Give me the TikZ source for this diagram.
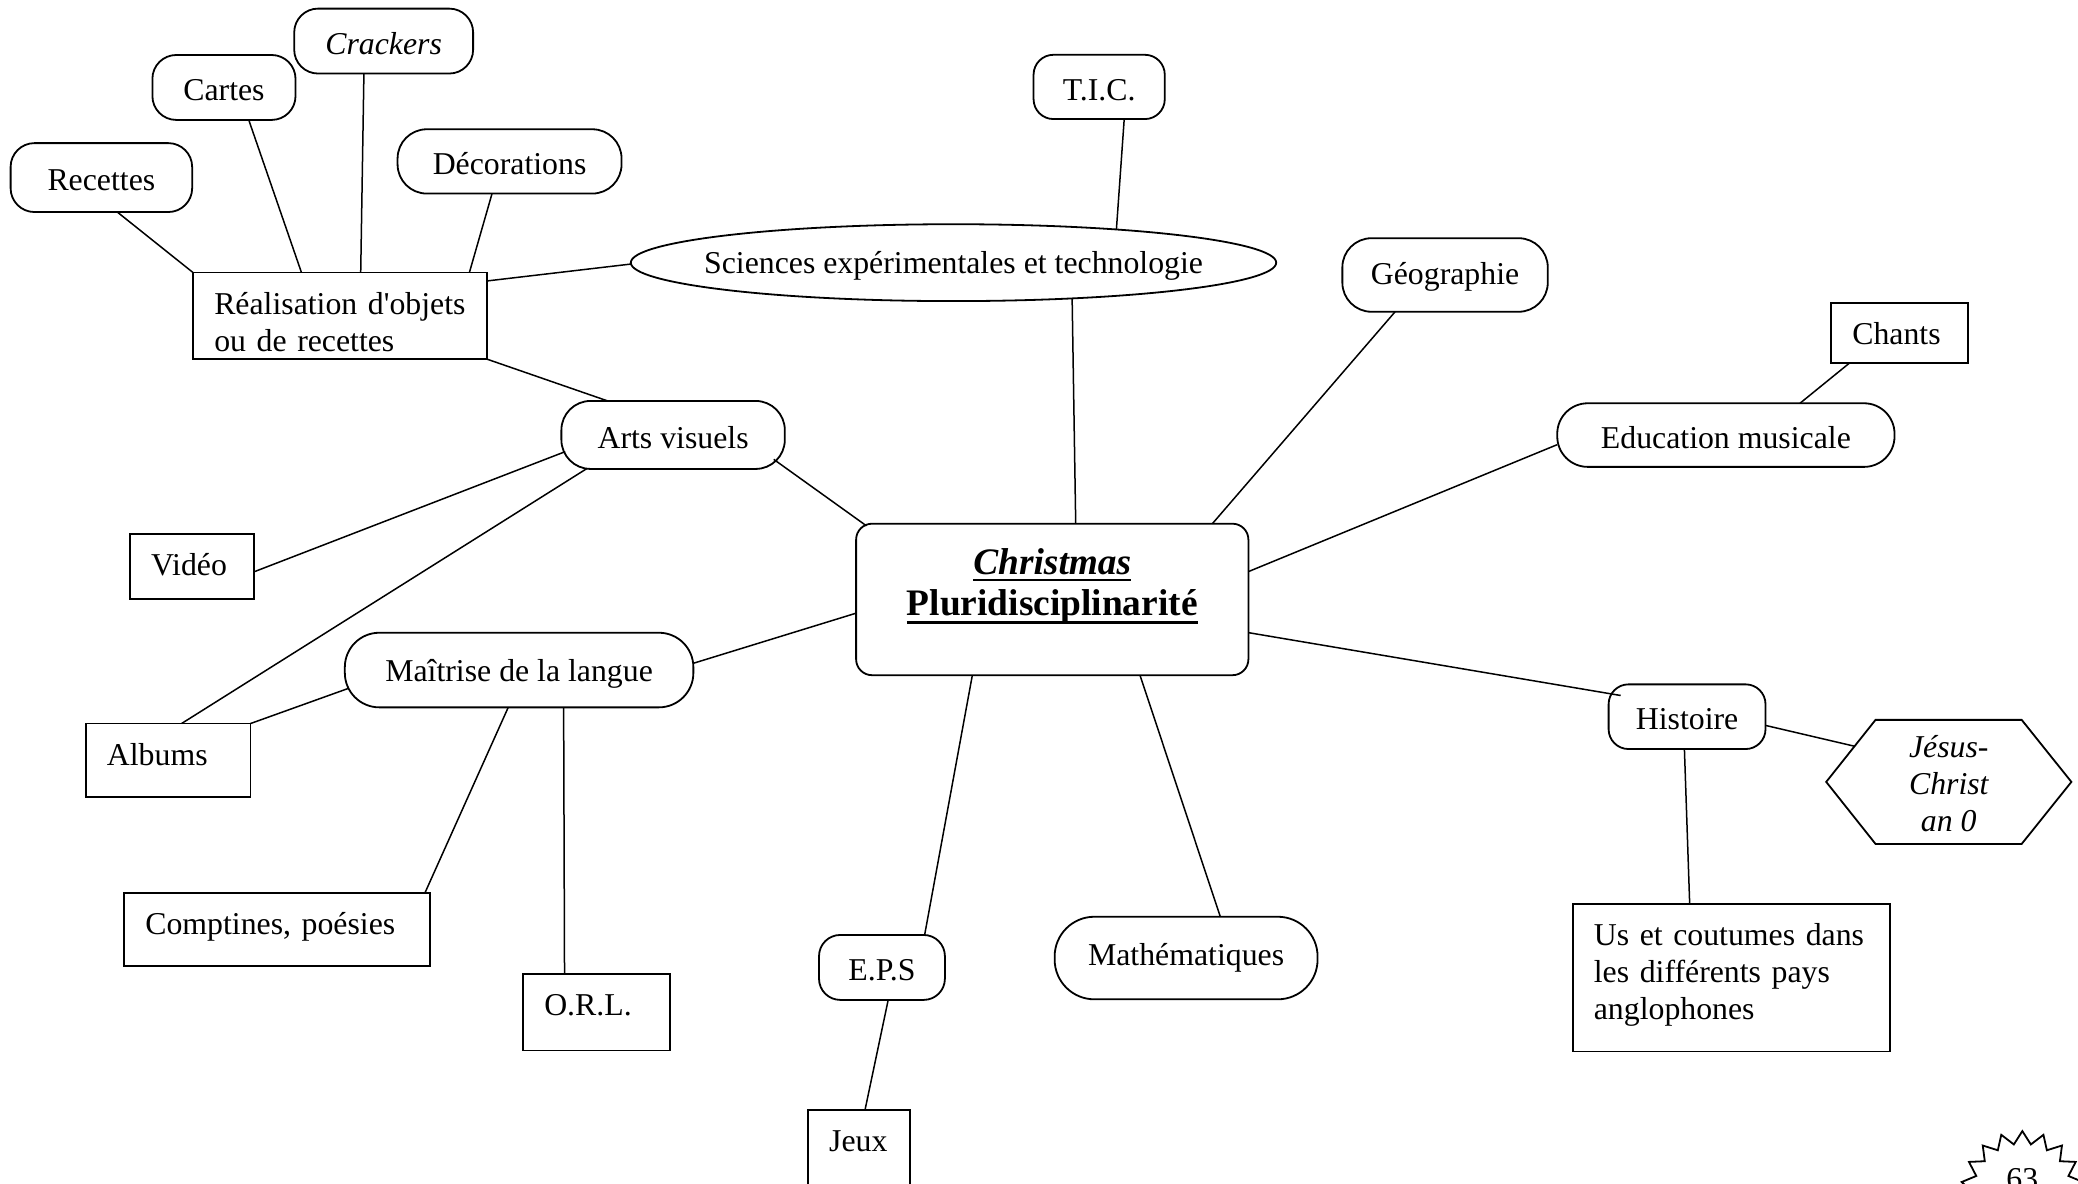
\documentclass[tikz,border=0pt]{standalone}
\usepackage{fontspec}
\setmainfont{Liberation Serif}
\usetikzlibrary{shapes.geometric}
\newdimen\pxu \pxu=0.6627pt
\newsavebox\myulbox
\newcommand\myul[2]{\leavevmode\sbox\myulbox{#2}\rlap{\rule[#1]{\wd\myulbox}{1.3pt}}\usebox\myulbox}
\begin{document}
\begin{tikzpicture}[x=0.6627pt,y=-0.6627pt,
  font=\fontsize{15.9}{18.5}\selectfont,
  nodebase/.style={draw, line width=0.9pt, inner sep=0pt},
  pill/.style={nodebase, rectangle, rounded corners=#1\pxu, text height=22\pxu, text depth=2\pxu, align=center},
  pill/.default=18,
  tbox/.style={nodebase, rectangle, anchor=north west, inner xsep=16\pxu, inner ysep=0pt, text height=31.5\pxu, align=left},
  conn/.style={line width=0.75pt}]
\useasboundingbox (0,0) rectangle (1568,893);
\clip (0,0) rectangle (1568,893);

% nodes
\node[pill=18, minimum width=137\pxu, minimum height=52\pxu] (rec) at (76.5,134) {Recettes};
\node[pill=18, minimum width=108\pxu, minimum height=49\pxu] (cartes) at (169,66) {Cartes};
\node[pill=18, minimum width=135\pxu, minimum height=49\pxu] (crackers) at (289.5,31) {\itshape Crackers};
\node[pill=22, minimum width=169\pxu, minimum height=48.5\pxu] (deco) at (384.5,121.8) {Décorations};
\node[tbox, text width=190\pxu, text depth=34\pxu] (real) at (145,205) {\mbox{Réalisation d\textquotesingle objets}\\\mbox{ou de recettes}};
\node[nodebase, ellipse, minimum width=487\pxu, minimum height=58\pxu, text height=20\pxu, text depth=4\pxu] (sci) at (719.5,198.2) {\makebox[0pt]{Sciences expérimentales et technologie}};
\node[pill=15, minimum width=99\pxu, minimum height=48.5\pxu] (tic) at (829.4,65.6) {T.I.C.};
\node[pill=22, minimum width=155\pxu, minimum height=55.5\pxu, text height=19.5\pxu, text depth=4.5\pxu] (geo) at (1090.4,207.5) {Géographie};
\node[tbox, text width=71.5\pxu, text depth=14\pxu] (chants) at (1381,228) {Chants};
\node[pill=23, minimum width=254.5\pxu, minimum height=48\pxu] (edu) at (1302.3,328.3) {Education musicale};
\node[pill=22, minimum width=168.6\pxu, minimum height=51.3\pxu] (arts) at (507.9,328.2) {Arts visuels};
\node[tbox, text width=61.6\pxu, text depth=18\pxu] (video) at (97.4,402) {Vidéo};
\node[nodebase, rectangle, rounded corners=12\pxu, anchor=north, minimum width=296\pxu, text width=280\pxu, align=center, text height=38\pxu, text depth=76.3\pxu, font=\fontsize{18.7}{20.8}\selectfont\bfseries] (xmas) at (794,394.5) {\myul{-3.55pt}{\itshape Christmas}\\\myul{-3.95pt}{Pluridisciplinarité}};
\node[pill=26, minimum width=263\pxu, minimum height=56.3\pxu, text height=20.8\pxu, text depth=3.2\pxu] (lang) at (391.7,505.6) {Maîtrise de la langue};
\node[tbox, text width=92.3\pxu, text depth=23.8\pxu] (albums) at (64,545.3) {Albums};
\node[tbox, text width=199\pxu, text depth=23.5\pxu] (comptines) at (93,673) {\mbox{Comptines, poésies}};
\node[tbox, text width=79\pxu, text depth=26.5\pxu] (orl) at (394,734) {O.R.L.};
\node[pill=16, minimum width=95\pxu, minimum height=49\pxu] (eps) at (665.5,730) {E.P.S};
\node[tbox, text width=45\pxu, text depth=48.5\pxu] (jeux) at (609,837) {Jeux};
\node[pill=30, minimum width=198.4\pxu, minimum height=62.3\pxu, text height=18\pxu, text depth=6\pxu] (math) at (895,722.9) {Mathématiques};
\node[pill=15, minimum width=118.4\pxu, minimum height=48.8\pxu] (hist) at (1273,540.8) {Histoire};
\node[align=center, font=\fontsize{15.9}{18.5}\selectfont\itshape] (jesus) at (1470.5,591.5) {Jésus-\\Christ\\an 0};
\draw[line width=0.9pt] ([shift={(-92.5,-1.5)}]jesus.center) -- ([shift={(-55.3,-48.3)}]jesus.center)
  -- ([shift={(55,-48.3)}]jesus.center) -- ([shift={(92.5,-1.5)}]jesus.center)
  -- ([shift={(55,45.3)}]jesus.center) -- ([shift={(-55.3,45.3)}]jesus.center) -- cycle;
\node[tbox, text width=207.4\pxu, text depth=79.8\pxu] (us) at (1186,681.5) {\mbox{Us et coutumes dans}\\\mbox{les différents pays}\\anglophones};
\node[inner sep=0pt, text height=10\pxu, text depth=15\pxu] (p63) at (1526,900) {63};
\draw[line width=0.9pt] ([shift={(90:46.5)}]p63.center)
  \foreach \k in {0,...,17} { -- ([shift={({100+20*\k}:37)}]p63.center) -- ([shift={({110+20*\k}:46.5)}]p63.center) } -- cycle;

% connectors
\draw[conn] ([shift={(12,26)}]rec.center) -- ([shift={(-111,-32.75)}]real.center);
\draw[conn] ([shift={(18.7,24.5)}]cartes.center) -- ([shift={(-29.2,-32.75)}]real.center);
\draw[conn] ([shift={(-14.9,24.5)}]crackers.center) -- ([shift={(15.5,-32.75)}]real.center);
\draw[conn] ([shift={(-13.2,24.2)}]deco.center) -- ([shift={(97.5,-32.75)}]real.center);
\draw[conn] ([shift={(111,-26.45)}]real.center) -- ([shift={(-243,1)}]sci.center);
\draw[conn] ([shift={(111,32.65)}]real.center) -- ([shift={(-49.2,-25.6)}]arts.center);
\draw[conn] ([shift={(18.9,24.2)}]tic.center) -- ([shift={(122.9,-25)}]sci.center);
\draw[conn] ([shift={(89.5,27)}]sci.center) -- ([shift={(17.7,-57.15)}]xmas.center);
\draw[conn] ([shift={(-37.7,27.75)}]geo.center) -- ([shift={(120.8,-57.15)}]xmas.center);
\draw[conn] ([shift={(-38.15,22.75)}]chants.center) -- ([shift={(55.9,-24)}]edu.center);
\draw[conn] ([shift={(-127.2,7.2)}]edu.center) -- ([shift={(148,-21)}]xmas.center);
\draw[conn] ([shift={(75.9,18.4)}]arts.center) -- ([shift={(-140.2,-55.55)}]xmas.center);
\draw[conn] ([shift={(-81.4,12.6)}]arts.center) -- ([shift={(46.8,4.05)}]video.center);
\draw[conn] ([shift={(-64.8,25.2)}]arts.center) -- ([shift={(10.15,-27.65)}]albums.center);
\draw[conn] ([shift={(131.5,-5.1)}]lang.center) -- ([shift={(-148,10.35)}]xmas.center);
\draw[conn] ([shift={(-128.7,13.8)}]lang.center) -- ([shift={(62.15,-27.65)}]albums.center);
\draw[conn] ([shift={(-8.2,28.15)}]lang.center) -- ([shift={(111.5,-27.5)}]comptines.center);
\draw[conn] ([shift={(33.6,28.15)}]lang.center) -- ([shift={(-24.2,-29)}]orl.center);
\draw[conn] ([shift={(-60.3,57.15)}]xmas.center) -- ([shift={(32.2,-24.5)}]eps.center);
\draw[conn] ([shift={(4.7,24.5)}]eps.center) -- ([shift={(4.5,-40)}]jeux.center);
\draw[conn] ([shift={(66.2,57.15)}]xmas.center) -- ([shift={(25.8,-31.15)}]math.center);
\draw[conn] ([shift={(148,25.05)}]xmas.center) -- ([shift={(-50.1,-16)}]hist.center);
\draw[conn] ([shift={(59.3,6.6)}]hist.center) -- ([shift={(-71.1,-28.4)}]jesus.center);
\draw[conn] ([shift={(-2,24.4)}]hist.center) -- ([shift={(-31.4,-55.65)}]us.center);
\end{tikzpicture}
\end{document}
